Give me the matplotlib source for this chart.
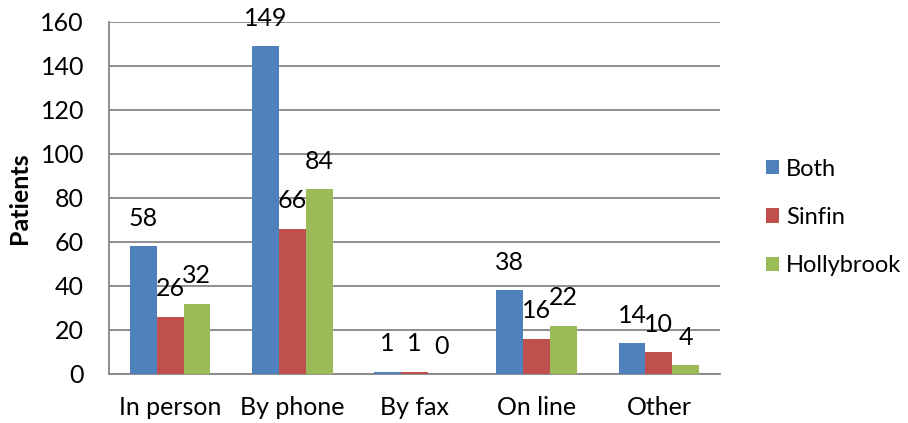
import matplotlib
matplotlib.use("Agg")
import matplotlib.pyplot as plt
import numpy as np

categories = ["In person", "By phone", "By fax", "On line", "Other"]
series_names = ["Both", "Sinfin", "Hollybrook"]
both = [58, 149, 1, 38, 14]
sinfin = [26, 66, 1, 16, 10]
hollybrook = [32, 84, 0, 22, 4]
colors = ["#4F81BD", "#C0504D", "#9BBB59"]

plt.rcParams['font.family'] = ['Lato', 'DejaVu Sans']
FS = 18

fig = plt.figure(figsize=(9.08, 4.23), dpi=100)
ax = fig.add_axes([0.120, 0.116, 0.673, 0.832])

x = np.arange(len(categories))
w = 0.22
for i, (vals, name, c) in enumerate(zip([both, sinfin, hollybrook], series_names, colors)):
    pos = x + (i - 1) * w
    ax.bar(pos, vals, width=w, color=c, label=name, zorder=3)
    for p, v in zip(pos, vals):
        ax.annotate(str(v), (p, v), xytext=(0, 20), textcoords="offset points",
                    ha="center", va="center", fontsize=FS, color="black", zorder=4)

ax.set_xlim(-0.5, 4.5)
ax.set_ylim(0, 160)
ax.set_yticks(range(0, 161, 20))
ax.set_xticks(x)
ax.set_xticklabels(categories)
ax.tick_params(axis='both', length=0, labelsize=FS)
ax.tick_params(axis='x', pad=16)
ax.tick_params(axis='y', pad=18)
ax.grid(axis='y', color="#868686", linewidth=1.3, zorder=0)
for s in ["top", "right"]:
    ax.spines[s].set_visible(False)
ax.spines["left"].set_color("#868686")
ax.spines["bottom"].set_color("#868686")
ax.spines["left"].set_linewidth(1.3)
ax.spines["bottom"].set_linewidth(1.3)
ax.set_ylabel("Patients", fontsize=FS, fontweight="bold", labelpad=7)

leg = ax.legend(loc="center left", bbox_to_anchor=(1.075, 0.445), frameon=False,
                fontsize=17, handlelength=0.55, handleheight=0.55, labelspacing=1.15,
                handletextpad=0.3, borderpad=0, borderaxespad=0)

fig.savefig("out.png", dpi=100)
